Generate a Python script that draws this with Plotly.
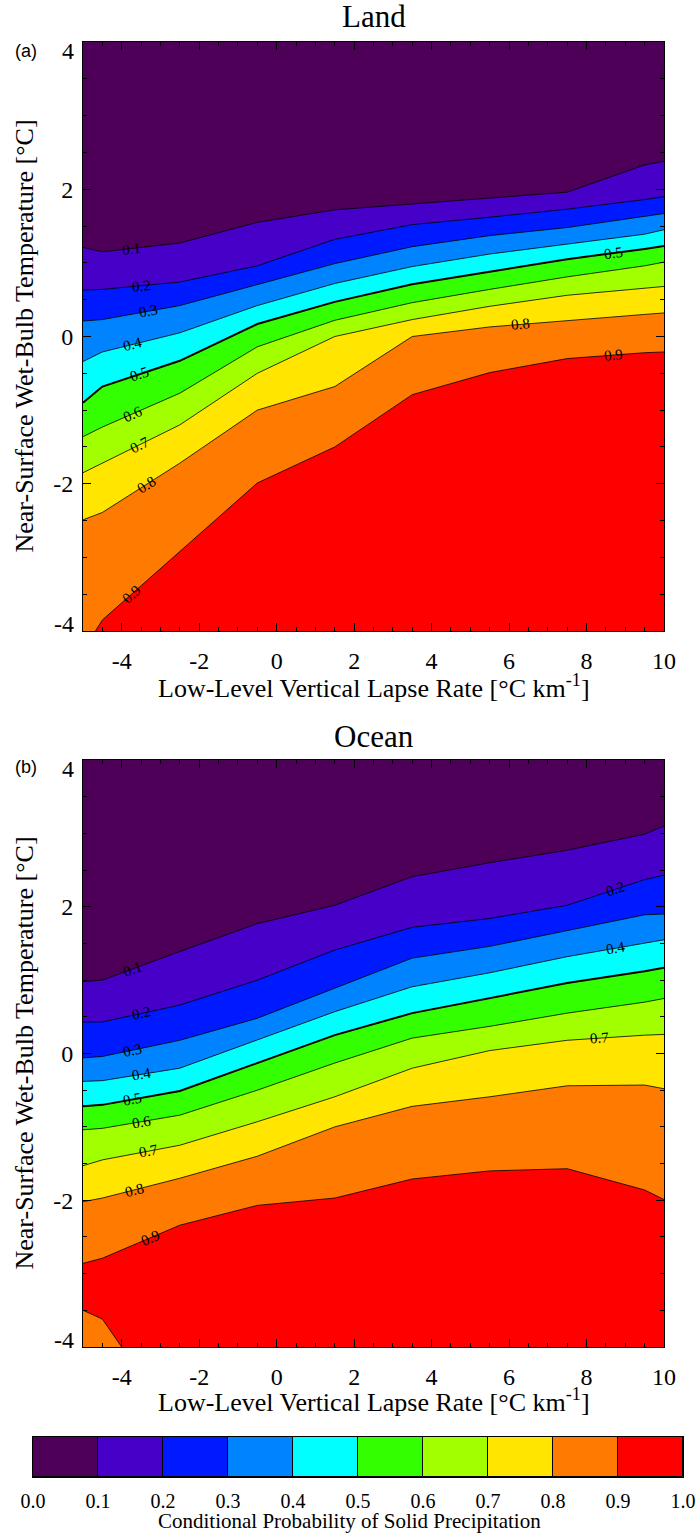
import math
import numpy as np
import plotly.graph_objects as go

# Lapse-rate nodes (degC per km) at which each probability isoline is given
LAPSE_NODES = [-5.0, -4.5, -2.5, -0.5, 1.5, 3.5, 5.5, 7.5, 9.5, 10.0]

LEVELS = [0.0, 0.1, 0.2, 0.3, 0.4, 0.5, 0.6, 0.7, 0.8, 0.9, 1.0]
BAND_COLORS = ["#4E0058", "#4600C8", "#001AFF", "#0083FF", "#00FFFF",
               "#33FF00", "#A2FF00", "#FFE500", "#FF7A00", "#FF0000"]

# Land: near-surface wet-bulb temperature (degC) of each isoline at LAPSE_NODES
LAND_P10 = [1.21, 1.15, 1.27, 1.55, 1.72, 1.80, 1.88, 1.96, 2.33, 2.38]
LAND_P20 = [0.63, 0.64, 0.74, 0.96, 1.32, 1.52, 1.62, 1.73, 1.86, 1.90]
LAND_P30 = [0.21, 0.23, 0.42, 0.71, 0.99, 1.22, 1.37, 1.48, 1.63, 1.67]
LAND_P40 = [-0.34, -0.21, 0.05, 0.42, 0.72, 0.95, 1.12, 1.25, 1.39, 1.45]
LAND_P50 = [-0.90, -0.68, -0.33, 0.17, 0.47, 0.71, 0.88, 1.05, 1.19, 1.23]
LAND_P60 = [-1.36, -1.23, -0.77, -0.14, 0.22, 0.46, 0.64, 0.81, 0.96, 1.01]
LAND_P70 = [-1.85, -1.72, -1.20, -0.50, 0.00, 0.23, 0.41, 0.56, 0.65, 0.68]
LAND_P80 = [-2.49, -2.39, -1.72, -1.00, -0.68, 0.00, 0.13, 0.22, 0.30, 0.32]
LAND_P90 = [-4.27, -3.85, -2.92, -1.99, -1.50, -0.79, -0.49, -0.30, -0.22, -0.21]

# Ocean: same layout
OCEAN_P10 = [0.98, 1.00, 1.39, 1.77, 2.02, 2.41, 2.60, 2.77, 2.99, 3.10]
OCEAN_P20 = [0.43, 0.43, 0.66, 1.00, 1.41, 1.72, 1.84, 2.02, 2.37, 2.43]
OCEAN_P30 = [-0.06, -0.04, 0.18, 0.48, 0.89, 1.30, 1.46, 1.68, 1.89, 1.90]
OCEAN_P40 = [-0.38, -0.37, -0.20, 0.18, 0.57, 0.91, 1.10, 1.32, 1.50, 1.55]
OCEAN_P50 = [-0.72, -0.70, -0.51, -0.13, 0.25, 0.55, 0.75, 0.96, 1.12, 1.17]
OCEAN_P60 = [-1.04, -1.02, -0.84, -0.50, -0.13, 0.21, 0.37, 0.55, 0.70, 0.75]
OCEAN_P70 = [-1.53, -1.45, -1.25, -0.93, -0.59, -0.20, 0.04, 0.18, 0.25, 0.26]
OCEAN_P80 = [-2.02, -1.97, -1.70, -1.40, -1.00, -0.72, -0.59, -0.44, -0.43, -0.48]
OCEAN_P90 = [-2.86, -2.79, -2.34, -2.07, -1.97, -1.71, -1.60, -1.57, -1.86, -1.99]
# second 0.9 isoline closing off the cold, very stable corner
OCEAN_P90_POCKET_LAPSE = [-5.0, -4.5, -4.0]
OCEAN_P90_POCKET_T = [-3.50, -3.62, -4.00]

# inline contour labels: level and lapse rate where each label sits
LAND_LABEL_LEVELS = [0.1, 0.2, 0.3, 0.4, 0.5, 0.6, 0.7, 0.8, 0.9, 0.5, 0.8, 0.9]
LAND_LABEL_LAPSE = [-3.75, -3.49, -3.32, -3.71, -3.54, -3.71, -3.54, -3.37, -3.74, 8.69, 6.30, 8.69]
OCEAN_LABEL_LEVELS = [0.1, 0.2, 0.3, 0.4, 0.5, 0.6, 0.7, 0.8, 0.9, 0.2, 0.4, 0.7]
OCEAN_LABEL_LAPSE = [-3.71, -3.49, -3.71, -3.49, -3.71, -3.49, -3.32, -3.67, -3.27, 8.74, 8.74, 8.33]

X_TICKS = [-4, -2, 0, 2, 4, 6, 8, 10]
Y_TICKS = [-4, -2, 0, 2, 4]
X_RANGE = [-5.0, 10.0]
T_RANGE = [-4.0, 4.0]

X_TITLE = "Low-Level Vertical Lapse Rate [°C km<sup>-1</sup>]"
Y_TITLE = "Near-Surface Wet-Bulb Temperature [°C]"
CBAR_TITLE = "Conditional Probability of Solid Precipitation"

# ---- page geometry (pixels) ----
FIG_W, FIG_H = 699, 1535
PANEL_X = (83, 664)
PANEL_A_Y = (42, 631)
PANEL_B_Y = (760, 1347)
CBAR_X = (33, 683)
CBAR_Y = (1437, 1477)

SERIF = "Liberation Serif"
SANS = "Liberation Sans"
TICK_SIZE = 24


def dom_x(a, b):
    return [a / FIG_W, b / FIG_W]


def dom_y(top, bottom):
    return [1 - bottom / FIG_H, 1 - top / FIG_H]


def px(x):
    return x / FIG_W


def py(y):
    return 1 - y / FIG_H


fig = go.Figure()


def add_panel(isolines, pocket, labels, xa, ya, panel_y):
    nodes = LAPSE_NODES
    # warmest band fills the whole panel, colder bands are painted above each isoline
    fig.add_trace(go.Scatter(
        x=[X_RANGE[0], X_RANGE[1], X_RANGE[1], X_RANGE[0]],
        y=[T_RANGE[0], T_RANGE[0], T_RANGE[1], T_RANGE[1]],
        fill="toself", fillcolor=BAND_COLORS[-1], mode="lines",
        line=dict(width=0), hoverinfo="skip", showlegend=False,
        xaxis=xa, yaxis=ya))
    for k in range(len(isolines) - 1, -1, -1):
        level, temps = isolines[k]
        band = LEVELS.index(level) - 1
        fig.add_trace(go.Scatter(
            x=list(nodes) + [X_RANGE[1], X_RANGE[0]],
            y=list(temps) + [T_RANGE[1] + 1, T_RANGE[1] + 1],
            fill="toself", fillcolor=BAND_COLORS[band], mode="lines",
            line=dict(width=0), hoverinfo="skip", showlegend=False,
            xaxis=xa, yaxis=ya))
    if pocket is not None:
        pl, pt = pocket
        fig.add_trace(go.Scatter(
            x=list(pl) + [pl[0]], y=list(pt) + [T_RANGE[0] - 1],
            fill="toself", fillcolor=BAND_COLORS[-2], mode="lines",
            line=dict(width=0), hoverinfo="skip", showlegend=False,
            xaxis=xa, yaxis=ya))
    # isolines
    for level, temps in isolines:
        fig.add_trace(go.Scatter(
            x=nodes, y=temps, mode="lines",
            line=dict(color="black", width=2.0 if abs(level - 0.5) < 1e-9 else 0.8),
            hoverinfo="skip", showlegend=False, xaxis=xa, yaxis=ya))
    if pocket is not None:
        fig.add_trace(go.Scatter(
            x=pocket[0], y=pocket[1], mode="lines",
            line=dict(color="black", width=0.8),
            hoverinfo="skip", showlegend=False, xaxis=xa, yaxis=ya))

    # inline labels, rotated along the isoline
    lookup = {round(lv, 2): np.array(t) for lv, t in isolines}
    px_per_x = (PANEL_X[1] - PANEL_X[0]) / (X_RANGE[1] - X_RANGE[0])
    px_per_t = (panel_y[1] - panel_y[0]) / (T_RANGE[1] - T_RANGE[0])
    lvls, lapses = labels
    for lv, lx in zip(lvls, lapses):
        temps = lookup[round(lv, 2)]
        ty = float(np.interp(lx, nodes, temps))
        t1 = float(np.interp(lx - 0.3, nodes, temps))
        t2 = float(np.interp(lx + 0.3, nodes, temps))
        ang = -math.degrees(math.atan2((t2 - t1) * px_per_t, 0.6 * px_per_x))
        fig.add_annotation(
            x=lx, y=ty, xref=xa, yref=ya, text=f"{lv:.1f}",
            showarrow=False, textangle=ang,
            font=dict(family=SERIF, size=15, color="black"),
            xanchor="center", yanchor="middle")

    # the end labels of the temperature axis sit just inside the frame
    for v, shift in ((T_RANGE[1], -9), (T_RANGE[0], 7)):
        fig.add_annotation(
            x=0, xref=f"{xa} domain", y=v, yref=ya, text=f"{v:g}",
            showarrow=False, xanchor="right", yanchor="middle",
            xshift=-7, yshift=shift,
            font=dict(family=SERIF, size=TICK_SIZE, color="black"))


land_lines = [(0.1, LAND_P10), (0.2, LAND_P20), (0.3, LAND_P30), (0.4, LAND_P40),
              (0.5, LAND_P50), (0.6, LAND_P60), (0.7, LAND_P70), (0.8, LAND_P80),
              (0.9, LAND_P90)]
ocean_lines = [(0.1, OCEAN_P10), (0.2, OCEAN_P20), (0.3, OCEAN_P30), (0.4, OCEAN_P40),
               (0.5, OCEAN_P50), (0.6, OCEAN_P60), (0.7, OCEAN_P70), (0.8, OCEAN_P80),
               (0.9, OCEAN_P90)]

add_panel(land_lines, None, (LAND_LABEL_LEVELS, LAND_LABEL_LAPSE), "x", "y", PANEL_A_Y)
add_panel(ocean_lines, (OCEAN_P90_POCKET_LAPSE, OCEAN_P90_POCKET_T),
          (OCEAN_LABEL_LEVELS, OCEAN_LABEL_LAPSE), "x2", "y2", PANEL_B_Y)

# colour bar drawn as ten adjoining cells
centers = [(LEVELS[i] + LEVELS[i + 1]) / 2 for i in range(len(LEVELS) - 1)]
fig.add_trace(go.Bar(
    x=centers, y=[1] * len(centers), width=[0.1] * len(centers),
    marker=dict(color=BAND_COLORS, line=dict(color="black", width=1)),
    hoverinfo="skip", showlegend=False, xaxis="x3", yaxis="y3"))


def panel_xaxis(domain, anchor):
    return dict(
        domain=domain, anchor=anchor, range=X_RANGE, automargin=False,
        tickmode="array", tickvals=X_TICKS, ticktext=[str(v) for v in X_TICKS],
        ticks="inside", ticklen=8, tickwidth=1, tickcolor="black",
        minor=dict(dtick=0.5, tick0=0, ticks="inside", ticklen=4,
                   tickcolor="black", tickwidth=1, showgrid=False),
        showline=True, linecolor="black", linewidth=1, mirror="ticks",
        showgrid=False, zeroline=False, ticklabelstandoff=8,
        tickfont=dict(family=SERIF, size=TICK_SIZE, color="black"))


def panel_yaxis(domain, anchor):
    # labels for the two frame-edge ticks are placed separately
    return dict(
        domain=domain, anchor=anchor, range=T_RANGE, automargin=False,
        tickmode="array", tickvals=Y_TICKS,
        ticktext=["" if v in T_RANGE else str(v) for v in Y_TICKS],
        ticks="inside", ticklen=8, tickwidth=1, tickcolor="black",
        minor=dict(dtick=0.5, tick0=0, ticks="inside", ticklen=4,
                   tickcolor="black", tickwidth=1, showgrid=False),
        showline=True, linecolor="black", linewidth=1, mirror="ticks",
        showgrid=False, zeroline=False, ticklabelstandoff=4,
        tickfont=dict(family=SERIF, size=TICK_SIZE, color="black"))


fig.update_layout(
    width=FIG_W, height=FIG_H, autosize=False,
    margin=dict(l=0, r=0, t=0, b=0, pad=0),
    paper_bgcolor="white", plot_bgcolor="white",
    showlegend=False, bargap=0,
    xaxis=panel_xaxis(dom_x(*PANEL_X), "y"),
    yaxis=panel_yaxis(dom_y(*PANEL_A_Y), "x"),
    xaxis2=panel_xaxis(dom_x(*PANEL_X), "y2"),
    yaxis2=panel_yaxis(dom_y(*PANEL_B_Y), "x2"),
    xaxis3=dict(
        domain=dom_x(*CBAR_X), anchor="y3", range=[0, 1], automargin=False,
        tickmode="array", tickvals=LEVELS, ticktext=[f"{v:.1f}" for v in LEVELS],
        ticks="", showline=True, linecolor="black", linewidth=1, mirror=True,
        showgrid=False, zeroline=False, ticklabelstandoff=6,
        tickfont=dict(family=SERIF, size=20, color="black")),
    yaxis3=dict(
        domain=dom_y(*CBAR_Y), anchor="x3", range=[0, 1], automargin=False,
        showticklabels=False, ticks="", showline=True, linecolor="black",
        linewidth=1, mirror=True, showgrid=False, zeroline=False),
)

mid_x = px((PANEL_X[0] + PANEL_X[1]) / 2)
texts = [
    ("Land", mid_x, py(17), 31, SERIF, 0),
    ("Ocean", mid_x, py(736), 31, SERIF, 0),
    ("(a)", px(26), py(51), 18, SANS, 0),
    ("(b)", px(26), py(767), 18, SANS, 0),
    (X_TITLE, mid_x, py(686), 26, SERIF, 0),
    (X_TITLE, mid_x, py(1400), 26, SERIF, 0),
    (Y_TITLE, px(24), py((PANEL_A_Y[0] + PANEL_A_Y[1]) / 2), 26, SERIF, -90),
    (Y_TITLE, px(24), py((PANEL_B_Y[0] + PANEL_B_Y[1]) / 2), 26, SERIF, -90),
    (CBAR_TITLE, px(349), py(1521), 21, SERIF, 0),
]
for txt, x, y, size, fam, ang in texts:
    fig.add_annotation(x=x, y=y, xref="paper", yref="paper", text=txt,
                       showarrow=False, textangle=ang,
                       xanchor="center", yanchor="middle",
                       font=dict(family=fam, size=size, color="black"))

fig.write_html("out.html")
